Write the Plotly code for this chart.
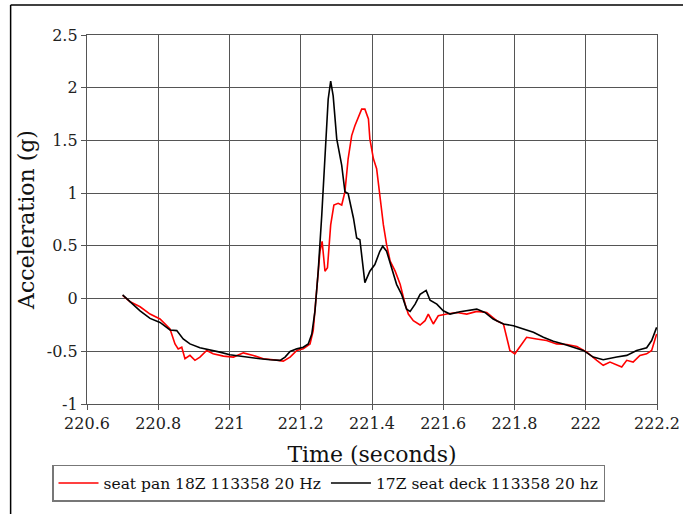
import plotly.graph_objects as go

# seat pan 18Z (red)
red_t = [220.700, 220.721, 220.749, 220.777, 220.805, 220.833, 220.847, 220.856, 220.866, 220.875,
         220.889, 220.903, 220.917, 220.936, 220.954, 220.983, 221.011, 221.039, 221.067, 221.095,
         221.123, 221.151, 221.170, 221.189, 221.207, 221.226, 221.235, 221.246, 221.254, 221.260,
         221.268, 221.275, 221.284, 221.293, 221.305, 221.315, 221.324, 221.333, 221.343, 221.352,
         221.362, 221.371, 221.380, 221.390, 221.394, 221.404, 221.413, 221.422, 221.432, 221.441,
         221.451, 221.465, 221.479, 221.493, 221.502, 221.516, 221.535, 221.549, 221.558, 221.572,
         221.586, 221.610, 221.638, 221.666, 221.694, 221.722, 221.750, 221.769, 221.778, 221.787,
         221.801, 221.815, 221.834, 221.862, 221.890, 221.918, 221.947, 221.975, 222.003, 222.031,
         222.049, 222.068, 222.087, 222.101, 222.115, 222.133, 222.152, 222.171, 222.185, 222.199]
red_g = [0.030, -0.030, -0.078, -0.147, -0.194, -0.288, -0.430, -0.477, -0.461, -0.571,
         -0.539, -0.586, -0.555, -0.492, -0.524, -0.546, -0.555, -0.515, -0.539, -0.571,
         -0.580, -0.593, -0.555, -0.492, -0.477, -0.430, -0.304, 0.135, 0.449, 0.543,
         0.260, 0.292, 0.699, 0.887, 0.903, 0.887, 1.013, 1.326, 1.546, 1.640,
         1.719, 1.797, 1.797, 1.703, 1.515, 1.326, 1.232, 0.950, 0.699, 0.511,
         0.355, 0.260, 0.135, -0.053, -0.147, -0.210, -0.251, -0.210, -0.147, -0.241,
         -0.163, -0.147, -0.132, -0.147, -0.122, -0.132, -0.210, -0.241, -0.367, -0.492,
         -0.524, -0.461, -0.367, -0.383, -0.398, -0.430, -0.436, -0.455, -0.508, -0.586,
         -0.633, -0.602, -0.633, -0.649, -0.586, -0.602, -0.539, -0.524, -0.492, -0.336]

# 17Z seat deck (black)
blk_t = [220.700, 220.721, 220.749, 220.777, 220.805, 220.833, 220.852, 220.870, 220.889, 220.917,
         220.945, 220.973, 221.001, 221.029, 221.058, 221.086, 221.114, 221.142, 221.156, 221.170,
         221.189, 221.207, 221.221, 221.231, 221.240, 221.249, 221.259, 221.268, 221.277, 221.284,
         221.291, 221.301, 221.315, 221.324, 221.333, 221.348, 221.357, 221.366, 221.380, 221.394,
         221.408, 221.422, 221.430, 221.441, 221.455, 221.469, 221.483, 221.497, 221.507, 221.521,
         221.535, 221.552, 221.563, 221.582, 221.600, 221.619, 221.647, 221.675, 221.694, 221.717,
         221.740, 221.769, 221.797, 221.825, 221.853, 221.881, 221.909, 221.937, 221.965, 221.993,
         222.021, 222.049, 222.087, 222.115, 222.143, 222.171, 222.185, 222.199]
blk_g = [0.035, -0.028, -0.116, -0.188, -0.226, -0.298, -0.304, -0.383, -0.430, -0.467,
         -0.486, -0.508, -0.533, -0.546, -0.564, -0.571, -0.580, -0.586, -0.555, -0.502,
         -0.477, -0.461, -0.430, -0.336, -0.116, 0.260, 0.793, 1.326, 1.891, 2.063,
         1.922, 1.515, 1.263, 1.013, 0.997, 0.762, 0.574, 0.558, 0.151, 0.260,
         0.323, 0.449, 0.496, 0.449, 0.292, 0.135, 0.040, -0.100, -0.122, -0.053,
         0.040, 0.078, -0.016, -0.053, -0.116, -0.147, -0.125, -0.110, -0.100, -0.132,
         -0.194, -0.241, -0.257, -0.288, -0.320, -0.367, -0.405, -0.430, -0.461, -0.492,
         -0.555, -0.580, -0.555, -0.539, -0.492, -0.467, -0.398, -0.273]

x_ticks = [220.6, 220.8, 221, 221.2, 221.4, 221.6, 221.8, 222, 222.2]
x_labels = ["220.6", "220.8", "221", "221.2", "221.4", "221.6", "221.8", "222", "222.2"]
y_ticks = [-1, -0.5, 0, 0.5, 1, 1.5, 2, 2.5]
y_labels = ["-1", "-0.5", "0", "0.5", "1", "1.5", "2", "2.5"]

FONT = "DejaVu Serif"

fig = go.Figure()
fig.add_trace(go.Scatter(x=red_t, y=red_g, mode="lines", name="seat pan 18Z 113358 20 Hz",
                         line=dict(color="#ff0000", width=1.6)))
fig.add_trace(go.Scatter(x=blk_t, y=blk_g, mode="lines", name="17Z seat deck 113358 20 hz",
                         line=dict(color="#000000", width=1.6)))

axis_common = dict(showgrid=True, gridcolor="#555555", gridwidth=1.3,
                   showline=True, linecolor="#555555", linewidth=1.3, mirror=True,
                   ticks="outside", ticklen=5, tickcolor="#555555", zeroline=False,
                   automargin=False,
                   tickfont=dict(family=FONT, size=16, color="#222222"))

fig.update_xaxes(range=[220.6, 222.2], tickvals=x_ticks, ticktext=x_labels,
                 title=dict(text="Time (seconds)", font=dict(family=FONT, size=22, color="#111111"), standoff=14),
                 **axis_common)
fig.update_yaxes(range=[-1, 2.5], tickvals=y_ticks, ticktext=y_labels,
                 title=dict(text="Acceleration (g)", font=dict(family=FONT, size=22, color="#111111"), standoff=6),
                 **axis_common)

fig.update_layout(
    width=683, height=514,
    margin=dict(l=87, r=26, t=35, b=107),
    paper_bgcolor="white", plot_bgcolor="white",
    showlegend=True,
    legend=dict(orientation="h", x=-0.0614, y=-0.165, xanchor="left", yanchor="top",
                bordercolor="#777777", borderwidth=1.5, bgcolor="white",
                font=dict(family=FONT, size=15.5, color="#111111"),
                itemwidth=40, tracegroupgap=0),
    shapes=[
        dict(type="line", xref="paper", yref="paper", x0=-0.134, x1=-0.134, y0=1.081, y1=-0.3,
             line=dict(color="black", width=1.5)),
        dict(type="line", xref="paper", yref="paper", x0=-0.134, x1=1.05, y0=1.081, y1=1.081,
             line=dict(color="black", width=1.5)),
    ],
)

fig.write_html("out.html")
